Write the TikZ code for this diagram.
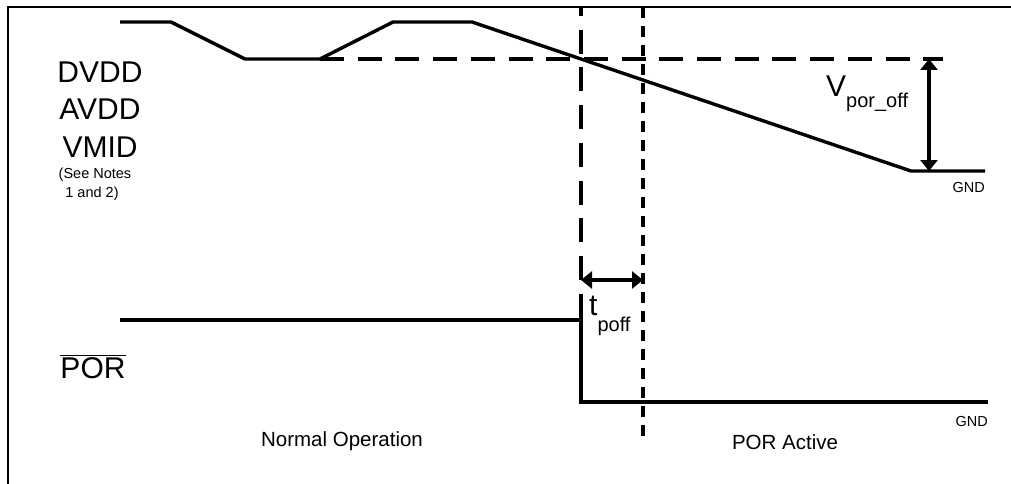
\documentclass[tikz,border=0pt]{standalone}
\usepackage{fontspec}
\setmainfont{Liberation Sans}
\usetikzlibrary{arrows.meta}

\tikzset{
    wave/.style={line width=3.4pt},
    longdash/.style={line width=3.4pt, dash pattern=on 24pt off 13.7pt},
    shortdash/.style={line width=3.2pt, dash pattern=on 11pt off 8pt},
    dimarrow/.style={line width=3.4pt, {Triangle[width=17pt,length=11pt]}-{Triangle[width=17pt,length=11pt]}},
    sig/.style={font=\fontsize{30}{32}\selectfont, inner sep=0pt, anchor=base},
    note/.style={font=\fontsize{14.5}{16}\selectfont, inner sep=0pt, anchor=base},
    region/.style={font=\fontsize{20.5}{22}\selectfont, inner sep=0pt, anchor=base},
}

\begin{document}
\begin{tikzpicture}[x=1pt, y=-1pt]
    \useasboundingbox (0,0) rectangle (1011,484);
    % frame
    \draw[line width=2.2pt] (8,490) -- (8,7) -- (1020,7);

    % supply rails
    \coordinate (s0) at (120,22);
    \coordinate (s1) at (171,22);
    \coordinate (s2) at (245,59);
    \coordinate (s3) at (320,59);
    \coordinate (s4) at (393,22);
    \coordinate (s5) at (472,22);
    \coordinate (s6) at (911,171);
    \coordinate (s7) at (985,171);
    \draw[wave] (s0) -- (s1) -- (s2) -- (s3) -- (s4) -- (s5) -- (s6) -- (s7);
    \coordinate (thr) at (943,59);
    \draw[longdash] (s3) -- (thr);

    % POR signal
    \coordinate (p0) at (120,320);
    \coordinate (p1) at (581,320);
    \coordinate (p2) at (581,402);
    \coordinate (p3) at (988,402);
    \draw[wave] (p0) -- (p1) -- (p2) -- (p3);

    % timing markers
    \coordinate (m1top) at (581,7);
    \coordinate (m2top) at (643,7);
    \coordinate (m2bot) at (643,443);
    \draw[longdash, dash phase=15pt] (m1top) -- (p1);
    \draw[shortdash] (m2top) -- (m2bot);

    % dimensions
    \coordinate (va) at (929,59);
    \coordinate (vb) at (929,171);
    \draw[dimarrow] (va) -- (vb);
    \coordinate (ta) at (581,280);
    \coordinate (tb) at (643,280);
    \draw[dimarrow] (ta) -- (tb);

    % labels
    \node[sig] (dvdd) at (100,83) {DVDD};
    \node[sig] (avdd) at (100,120) {AVDD};
    \node[sig] (vmid) at (100,157) {VMID};
    \node[note] (notes1) at (95,178) {(See Notes};
    \node[note] (notes2) at (92,197) {1 and 2)};
    \node[sig] (por) at (93,378) {$\overline{\mbox{POR}}$};
    \node[note, anchor=base east] (gnd1) at (985,192) {GND};
    \node[note, anchor=base east] (gnd2) at (988,426) {GND};
    \node[region] (normal) at (342,446) {Normal Operation};
    \node[region] (active) at (785,449) {POR Active};
    \node[sig, anchor=base west] (vpor) at (826,97)
        {V\raisebox{-11pt}{\fontsize{20}{22}\selectfont por\_off}};
    \node[sig, anchor=base west] (tpoff) at (589,315)
        {t\raisebox{-16pt}{\fontsize{20}{22}\selectfont poff}};
\end{tikzpicture}
\end{document}
